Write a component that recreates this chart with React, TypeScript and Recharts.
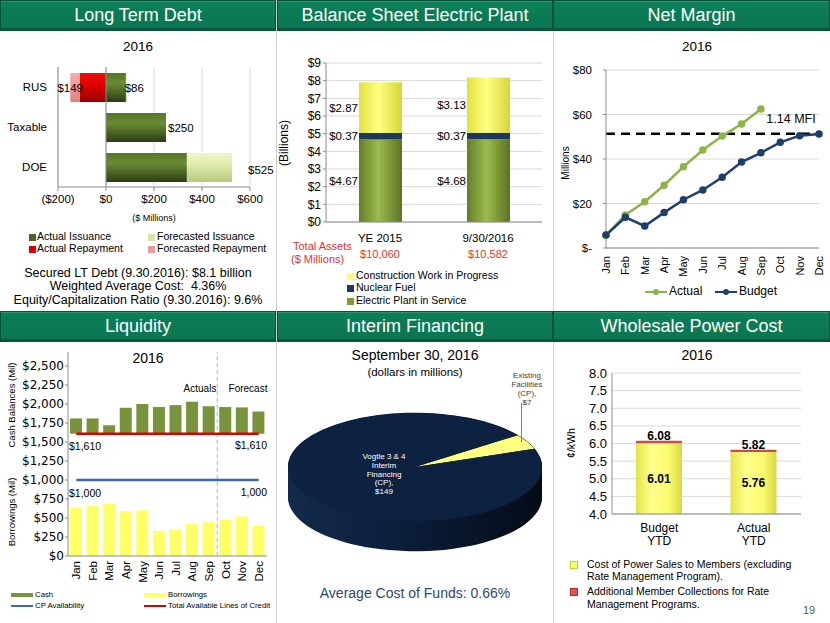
import React from "react";
import {
  BarChart,
  Bar,
  XAxis,
  YAxis,
  CartesianGrid,
  LineChart,
  Line,
  ComposedChart,
  ReferenceLine,
  LabelList,
  PieChart,
  Pie,
  Cell,
} from "recharts";

const SANS = "'Liberation Sans', Arial, sans-serif";
const VERD = "'DejaVu Sans', Verdana, sans-serif";

// ---- Long Term Debt, 2016 ($ millions)
const debtTypes = ["RUS", "Taxable", "DOE"];
const actualIssuance = [83, 250, 337];
const forecastIssuance = [3, 0, 188];
const actualRepayment = [-110, 0, 0];
const forecastRepayment = [-39, 0, 0];
const debtTicks = [-200, 0, 200, 400, 600];
const debtSeries = ["Actual Issuance", "Forecasted Issuance", "Actual Repayment", "Forecasted Repayment"];

// ---- Balance Sheet Electric Plant ($ billions)
const plantDates = ["YE 2015", "9/30/2016"];
const plantInService = [4.67, 4.68];
const nuclearFuel = [0.37, 0.37];
const constructionWip = [2.87, 3.13];
const totalAssets = ["$10,060", "$10,582"];
const plantTicks = [0, 1, 2, 3, 4, 5, 6, 7, 8, 9];
const plantSeries = ["Construction Work in Progress", "Nuclear Fuel", "Electric Plant in Service"];

// ---- Net Margin ($ millions)
const months = ["Jan", "Feb", "Mar", "Apr", "May", "Jun", "Jul", "Aug", "Sep", "Oct", "Nov", "Dec"];
const marginActual = [5.8, 14.8, 20.8, 28.2, 36.5, 44.0, 50.3, 55.7, 62.5, null, null, null];
const marginBudget = [5.8, 13.8, 9.9, 15.9, 21.7, 26.1, 31.8, 38.6, 42.8, 47.5, 50.5, 51.2];
const mfiLevel = 51.4;
const marginTicks = [0, 20, 40, 60, 80];

// ---- Liquidity ($ millions)
const cashBalances = [1810, 1810, 1720, 1950, 2000, 1960, 1985, 2030, 1970, 1960, 1955, 1900];
const borrowings = [640, 660, 690, 590, 600, 330, 345, 420, 445, 475, 520, 400];
const creditLines = 1610;
const cpAvailability = 1000;
const liquidityTicks = [0, 250, 500, 750, 1000, 1250, 1500, 1750, 2000, 2250, 2500];

// ---- Interim Financing, September 30, 2016 ($ millions)
const interimSources = ["Existing Facilities (CP)", "Vogtle 3 & 4 Interim Financing (CP)"];
const interimAmounts = [7, 149];

// ---- Wholesale Power Cost (cents/kWh)
const costCategories = ["Budget YTD", "Actual YTD"];
const powerSalesCost = [6.01, 5.76];
const memberCollections = [0.07, 0.06];
const costAxisMin = 4;
const costTicks = [4.0, 4.5, 5.0, 5.5, 6.0, 6.5, 7.0, 7.5, 8.0];

// label nudges for the debt chart (px)
const debtLabelGap = [-2, 2, 16];
const debtLabelDrop = [0, 0, 2];

const debtData = debtTypes.map((name, i) => ({
  name,
  ai: actualIssuance[i],
  fi: forecastIssuance[i],
  ar: actualRepayment[i],
  fr: forecastRepayment[i],
  issued: actualIssuance[i] + forecastIssuance[i],
  repaid: -(actualRepayment[i] + forecastRepayment[i]),
}));

const plantData = plantDates.map((d, i) => ({
  d,
  eps: plantInService[i],
  nf: nuclearFuel[i],
  cwip: constructionWip[i],
}));

const marginData = months.map((m, i) => ({ m, actual: marginActual[i], budget: marginBudget[i] }));

const liquidityData = months.map((m, i) => ({
  m,
  cash: [creditLines, cashBalances[i]],
  borrow: borrowings[i],
  lines: creditLines,
  cp: cpAvailability,
}));

const interimData = interimSources.map((name, i) => ({ name, value: interimAmounts[i] }));

const costData = costCategories.map((c, i) => ({
  c,
  cost: powerSalesCost[i],
  total: +(powerSalesCost[i] + memberCollections[i]).toFixed(2),
  base: [costAxisMin, powerSalesCost[i]],
  extra: [powerSalesCost[i], powerSalesCost[i] + memberCollections[i]],
}));

type TxtProps = {
  x: number;
  y: number;
  size: number;
  children: React.ReactNode;
  color?: string;
  align?: "start" | "middle" | "end";
  bold?: boolean;
  family?: string;
  rotate?: boolean;
};

function Txt({ x, y, size, children, color = "#000", align = "middle", bold, family = SANS, rotate }: TxtProps) {
  const tx = align === "middle" ? "-50%" : align === "end" ? "-100%" : "0";
  return (
    <div
      style={{
        position: "absolute",
        left: x,
        top: y,
        transform: `translate(${tx}, -50%)${rotate ? " rotate(-90deg)" : ""}`,
        fontFamily: family,
        fontSize: size,
        fontWeight: bold ? 700 : 400,
        color,
        whiteSpace: "pre",
        lineHeight: 1.1,
      }}
    >
      {children}
    </div>
  );
}

function Header({ left, top, width, title }: { left: number; top: number; width: number; title: string }) {
  return (
    <div
      style={{
        position: "absolute",
        left,
        top,
        width,
        height: 31,
        boxSizing: "border-box",
        background: "linear-gradient(#0c8058, #0a7551)",
        border: "1px solid #05513a",
        boxShadow: "inset 0 1px 0 rgba(255,255,255,0.15), inset 0 -2px 0 rgba(0,0,0,0.25)",
        color: "#fff",
        fontFamily: SANS,
        fontSize: 18,
        display: "flex",
        alignItems: "center",
        justifyContent: "center",
      }}
    >
      {title}
    </div>
  );
}

function Swatch({ x, y, w, h, color, border }: { x: number; y: number; w: number; h: number; color: string; border?: string }) {
  return (
    <div
      style={{
        position: "absolute",
        left: x,
        top: y - h / 2,
        width: w,
        height: h,
        background: color,
        boxSizing: "border-box",
        border: border ? `1px solid ${border}` : undefined,
      }}
    />
  );
}

const MonthTick = (size: number, family: string) => (props: any) => {
  const { x, y, payload } = props;
  return (
    <text
      x={x}
      y={y}
      transform={`rotate(-90, ${x}, ${y})`}
      textAnchor="end"
      dominantBaseline="central"
      fontSize={size}
      fontFamily={family}
      fill="#000"
    >
      {payload.value}
    </text>
  );
};

// sits on the actual-issuance segment, stretched by the issued/actual ratio
function issueLabel(props: any) {
  const vb = props.viewBox ?? props;
  const { x, y, width, height } = vb;
  const i = props.index;
  const total = Number(props.value);
  const right = x + width * (total / actualIssuance[i]);
  return (
    <text
      x={right + debtLabelGap[i]}
      y={y + height / 2 + debtLabelDrop[i]}
      dominantBaseline="central"
      fontSize={11.5}
      fontFamily={SANS}
      fill="#000"
    >
      {"$" + total}
    </text>
  );
}

function repayLabel(props: any) {
  const vb = props.viewBox ?? props;
  const { x, y, width, height } = vb;
  const total = Number(props.value);
  if (!total) return null;
  return (
    <text
      x={Math.min(x, x + width)}
      y={y + height / 2}
      textAnchor="middle"
      dominantBaseline="central"
      fontSize={11.5}
      fontFamily={SANS}
      fill="#000"
    >
      {"$" + total}
    </text>
  );
}

const CostTick = (props: any) => {
  const { x, y, payload } = props;
  const words = String(payload.value).split(" ");
  return (
    <text x={x} y={y} textAnchor="middle" fontSize={12} fontFamily={SANS} fill="#000">
      <tspan x={x} dy={18}>{words[0]}</tspan>
      <tspan x={x} dy={13}>{words[1]}</tspan>
    </text>
  );
};

const axisGray = { stroke: "#8c8c8c" };

export default function App() {
  const pieScale = 0.425;
  const pieDepth = 71;
  const depthSteps = Array.from({ length: 25 }, (_, k) => pieDepth - k * 3);

  return (
    <div style={{ position: "relative", width: 830, height: 623, background: "#fff", overflow: "hidden" }}>
      <style>{"body{margin:0}"}</style>

      {/* panel dividers */}
      <div style={{ position: "absolute", left: 276, top: 0, width: 1, height: 623, background: "#cfcfcf" }} />
      <div style={{ position: "absolute", left: 553, top: 0, width: 1, height: 623, background: "#cfcfcf" }} />

      <Header left={0} top={0} width={276} title="Long Term Debt" />
      <Header left={277} top={0} width={276} title="Balance Sheet Electric Plant" />
      <Header left={553} top={0} width={277} title="Net Margin" />
      <Header left={0} top={311} width={276} title="Liquidity" />
      <Header left={277} top={311} width={276} title="Interim Financing" />
      <Header left={553} top={311} width={277} title="Wholesale Power Cost" />

      {/* ---------- Long Term Debt ---------- */}
      <Txt x={138} y={47} size={13.5}>2016</Txt>
      <div style={{ position: "absolute", left: 0, top: 30 }}>
        <BarChart
          width={276}
          height={180}
          data={debtData}
          layout="vertical"
          stackOffset="sign"
          margin={{ top: 37, right: 26, bottom: 0, left: 0 }}
        >
          <defs>
            <linearGradient id="gAI" x1="0" y1="0" x2="0" y2="1">
              <stop offset="0" stopColor="#56742a" />
              <stop offset="0.35" stopColor="#6a8c36" />
              <stop offset="1" stopColor="#2b3c13" />
            </linearGradient>
            <linearGradient id="gFI" x1="0" y1="0" x2="0" y2="1">
              <stop offset="0" stopColor="#f0f6cc" />
              <stop offset="0.4" stopColor="#dfeaad" />
              <stop offset="1" stopColor="#b7ca7c" />
            </linearGradient>
            <linearGradient id="gAR" x1="0" y1="0" x2="0" y2="1">
              <stop offset="0" stopColor="#f01010" />
              <stop offset="0.4" stopColor="#e00000" />
              <stop offset="1" stopColor="#980000" />
            </linearGradient>
            <linearGradient id="gFR" x1="0" y1="0" x2="0" y2="1">
              <stop offset="0" stopColor="#f4b0b0" />
              <stop offset="1" stopColor="#dc8383" />
            </linearGradient>
          </defs>
          <CartesianGrid horizontal={false} stroke="#dadada" />
          <XAxis
            type="number"
            domain={[-200, 600]}
            ticks={debtTicks}
            interval={0}
            tickFormatter={(v: number) => (v < 0 ? `($${-v})` : `$${v}`)}
            height={23}
            axisLine={axisGray}
            tickLine={axisGray}
            tickSize={4}
            tickMargin={4}
            tick={{ fontSize: 11.5, fill: "#000", fontFamily: SANS }}
          />
          <YAxis
            type="category"
            dataKey="name"
            width={58}
            tickLine={false}
            tickSize={0}
            tickMargin={11}
            axisLine={axisGray}
            tick={{ fontSize: 11.5, fill: "#000", fontFamily: SANS }}
          />
          <ReferenceLine x={0} stroke="#8c8c8c" />
          <Bar dataKey="ai" stackId="d" fill="url(#gAI)" barSize={29} isAnimationActive={false}>
            <LabelList dataKey="issued" content={issueLabel} />
          </Bar>
          <Bar dataKey="fi" stackId="d" fill="url(#gFI)" barSize={29} isAnimationActive={false} />
          <Bar dataKey="ar" stackId="d" fill="url(#gAR)" barSize={29} isAnimationActive={false} />
          <Bar dataKey="fr" stackId="d" fill="url(#gFR)" barSize={29} isAnimationActive={false}>
            <LabelList dataKey="repaid" content={repayLabel} />
          </Bar>
        </BarChart>
      </div>
      <Txt x={154} y={219} size={9}>($ Millions)</Txt>
      <Swatch x={29} y={237} w={7} h={7} color="#4a6424" />
      <Txt x={37} y={237} size={10.5} align="start">{debtSeries[0]}</Txt>
      <Swatch x={148} y={237} w={7} h={7} color="#d9e6a6" />
      <Txt x={157} y={237} size={10.5} align="start">{debtSeries[1]}</Txt>
      <Swatch x={29} y={249} w={7} h={7} color="#dc0000" />
      <Txt x={37} y={249} size={10.5} align="start">{debtSeries[2]}</Txt>
      <Swatch x={148} y={249} w={7} h={7} color="#eb9a9a" />
      <Txt x={157} y={249} size={10.5} align="start">{debtSeries[3]}</Txt>
      <Txt x={138} y={274} size={12.5}>Secured LT Debt (9.30.2016): $8.1 billion</Txt>
      <Txt x={138} y={287} size={12.5}>Weighted Average Cost:  4.36%</Txt>
      <Txt x={138} y={301} size={12.5}>Equity/Capitalization Ratio (9.30.2016): 9.6%</Txt>

      {/* ---------- Balance Sheet Electric Plant ---------- */}
      <div style={{ position: "absolute", left: 276, top: 30 }}>
        <BarChart width={277} height={217} data={plantData} margin={{ top: 33, right: 11, bottom: 0, left: 0 }}>
          <defs>
            <linearGradient id="gEps" x1="0" y1="0" x2="1" y2="0">
              <stop offset="0" stopColor="#647d26" />
              <stop offset="0.45" stopColor="#9dbb4e" />
              <stop offset="1" stopColor="#5b7323" />
            </linearGradient>
            <linearGradient id="gCwip" x1="0" y1="0" x2="1" y2="0">
              <stop offset="0" stopColor="#e2e23c" />
              <stop offset="0.45" stopColor="#ffff82" />
              <stop offset="1" stopColor="#d6d63a" />
            </linearGradient>
          </defs>
          <CartesianGrid vertical={false} stroke="#d9d9d9" />
          <XAxis
            dataKey="d"
            height={25}
            axisLine={axisGray}
            tickLine={false}
            tickMargin={6}
            tick={{ fontSize: 11.5, fill: "#000", fontFamily: SANS }}
          />
          <YAxis
            domain={[0, 9]}
            ticks={plantTicks}
            interval={0}
            width={50}
            tickFormatter={(v: number) => `$${v}`}
            axisLine={axisGray}
            tickLine={axisGray}
            tickSize={3}
            tickMargin={2}
            tick={{ fontSize: 12, fill: "#000", fontFamily: SANS }}
          />
          <Bar dataKey="eps" stackId="p" fill="url(#gEps)" barSize={43} isAnimationActive={false}>
            <LabelList dataKey="eps" position="left" offset={1} formatter={(v: any) => `$${Number(v).toFixed(2)}`} style={{ fontSize: 11.5, fontFamily: SANS, fill: "#000" }} />
          </Bar>
          <Bar dataKey="nf" stackId="p" fill="#1d375f" barSize={43} isAnimationActive={false}>
            <LabelList dataKey="nf" position="left" offset={1} formatter={(v: any) => `$${Number(v).toFixed(2)}`} style={{ fontSize: 11.5, fontFamily: SANS, fill: "#000" }} />
          </Bar>
          <Bar dataKey="cwip" stackId="p" fill="url(#gCwip)" barSize={43} isAnimationActive={false}>
            <LabelList dataKey="cwip" position="left" offset={1} formatter={(v: any) => `$${Number(v).toFixed(2)}`} style={{ fontSize: 11.5, fontFamily: SANS, fill: "#000" }} />
          </Bar>
        </BarChart>
      </div>
      <Txt x={285} y={143} size={12} rotate>(Billions)</Txt>
      <Txt x={293} y={246} size={11} color="#e3312f" align="start">Total Assets</Txt>
      <Txt x={291} y={259} size={11} color="#e3312f" align="start">($ Millions)</Txt>
      {totalAssets.map((t, i) => (
        <Txt key={t} x={326 + (i + 0.5) * 108} y={254} size={11} color="#e3312f">
          {t}
        </Txt>
      ))}
      <Swatch x={347} y={276} w={7} h={7} color="#ffff66" />
      <Txt x={356} y={276} size={10.5} align="start">{plantSeries[0]}</Txt>
      <Swatch x={347} y={288} w={7} h={7} color="#1d375f" />
      <Txt x={356} y={288} size={10.5} align="start">{plantSeries[1]}</Txt>
      <Swatch x={347} y={301} w={7} h={7} color="#7f9a36" />
      <Txt x={356} y={301} size={10.5} align="start">{plantSeries[2]}</Txt>

      {/* ---------- Net Margin ---------- */}
      <Txt x={697} y={47} size={13.5}>2016</Txt>
      <div style={{ position: "absolute", left: 553, top: 30 }}>
        <LineChart width={277} height={252} data={marginData} margin={{ top: 40, right: 11, bottom: 0, left: 0 }}>
          <CartesianGrid vertical={false} stroke="#d9d9d9" />
          <XAxis
            dataKey="m"
            height={34}
            interval={0}
            axisLine={axisGray}
            tickLine={false}
            tickSize={0}
            tickMargin={8}
            tick={MonthTick(11, SANS)}
          />
          <YAxis
            domain={[0, 80]}
            ticks={marginTicks}
            interval={0}
            width={53}
            tickFormatter={(v: number) => (v === 0 ? "$-" : `$${v}`)}
            axisLine={axisGray}
            tickLine={axisGray}
            tickSize={3}
            tickMargin={11}
            tick={{ fontSize: 11.5, fill: "#000", fontFamily: SANS }}
          />
          <ReferenceLine
            segment={[
              { x: "Jan", y: mfiLevel },
              { x: "Dec", y: mfiLevel },
            ]}
            stroke="#000"
            strokeWidth={2.5}
            strokeDasharray="9 6"
          />
          <Line
            dataKey="actual"
            stroke="#8db448"
            strokeWidth={2.5}
            dot={{ r: 2.5, fill: "#8db448", stroke: "#8db448" }}
            isAnimationActive={false}
          />
          <Line
            dataKey="budget"
            stroke="#1f3f6b"
            strokeWidth={2.5}
            dot={{ r: 2.5, fill: "#1f3f6b", stroke: "#1f3f6b" }}
            isAnimationActive={false}
          />
        </LineChart>
      </div>
      <Txt x={791} y={120} size={12.5}>1.14 MFI</Txt>
      <Txt x={565} y={163} size={10} rotate>Millions</Txt>
      <Swatch x={645} y={292} w={22} h={2.5} color="#8db448" />
      <div style={{ position: "absolute", left: 653, top: 289, width: 6, height: 6, borderRadius: 3, background: "#8db448" }} />
      <Txt x={669} y={292} size={12} align="start">Actual</Txt>
      <Swatch x={715} y={292} w={22} h={2.5} color="#1f3f6b" />
      <div style={{ position: "absolute", left: 723, top: 289, width: 6, height: 6, borderRadius: 3, background: "#1f3f6b" }} />
      <Txt x={739} y={292} size={12} align="start">Budget</Txt>

      {/* ---------- Liquidity ---------- */}
      <div style={{ position: "absolute", left: 0, top: 343 }}>
        <ComposedChart width={276} height={250} data={liquidityData} margin={{ top: 9, right: 9, bottom: 0, left: 0 }}>
          <XAxis
            xAxisId="a"
            dataKey="m"
            height={37}
            interval={0}
            axisLine={axisGray}
            tickLine={false}
            tickSize={0}
            tickMargin={5}
            tick={MonthTick(11.5, SANS)}
          />
          <XAxis xAxisId="b" dataKey="m" hide />
          <YAxis
            domain={[0, 2684]}
            ticks={liquidityTicks}
            interval={0}
            width={68}
            tickFormatter={(v: number) => "$" + v.toLocaleString("en-US")}
            axisLine={axisGray}
            tickLine={axisGray}
            tickSize={3}
            tickMargin={1}
            tick={{ fontSize: 12, fill: "#000", fontFamily: VERD }}
          />
          <ReferenceLine xAxisId="a" x="Oct" position="start" stroke="#9ab8dc" strokeDasharray="4 3" />
          <Bar xAxisId="b" dataKey="cash" fill="#77933c" barSize={12} isAnimationActive={false} />
          <Bar xAxisId="a" dataKey="borrow" fill="#ffff66" barSize={12} isAnimationActive={false} />
          <Line xAxisId="a" dataKey="lines" stroke="#dc0000" strokeWidth={2.5} dot={false} isAnimationActive={false} />
          <Line xAxisId="a" dataKey="cp" stroke="#3a69ad" strokeWidth={2.5} dot={false} isAnimationActive={false} />
        </ComposedChart>
      </div>
      <Txt x={148} y={359} size={14}>2016</Txt>
      <Txt x={200} y={388} size={10}>Actuals</Txt>
      <Txt x={248} y={388} size={10}>Forecast</Txt>
      <Txt x={69} y={447} size={10.5} align="start">{"$" + creditLines.toLocaleString("en-US")}</Txt>
      <Txt x={267} y={446} size={10.5} align="end">{"$" + creditLines.toLocaleString("en-US")}</Txt>
      <Txt x={69} y={494} size={10.5} align="start">{"$" + cpAvailability.toLocaleString("en-US")}</Txt>
      <Txt x={267} y={493} size={10.5} align="end">{cpAvailability.toLocaleString("en-US")}</Txt>
      <Txt x={12} y={405} size={9.5} rotate>Cash Balances (Mil)</Txt>
      <Txt x={12} y={512} size={9.5} rotate>Borrowings (Mil)</Txt>
      <Swatch x={11} y={595} w={22} h={4} color="#77933c" />
      <Txt x={35} y={595} size={7.8} align="start">Cash</Txt>
      <Swatch x={144} y={595} w={22} h={4} color="#ffff66" />
      <Txt x={168} y={595} size={7.8} align="start">Borrowings</Txt>
      <Swatch x={11} y={606} w={22} h={2} color="#3a69ad" />
      <Txt x={35} y={606} size={7.8} align="start">CP Availability</Txt>
      <Swatch x={144} y={606} w={22} h={2.5} color="#dc0000" />
      <Txt x={168} y={606} size={7.8} align="start">Total Available Lines of Credit</Txt>

      {/* ---------- Interim Financing ---------- */}
      <Txt x={415} y={356} size={14}>September 30, 2016</Txt>
      <Txt x={415} y={372} size={11.5}>(dollars in millions)</Txt>
      <div
        style={{
          position: "absolute",
          left: 280,
          top: 411,
          width: 270,
          height: 340,
          transform: `scaleY(${pieScale})`,
          transformOrigin: "top left",
        }}
      >
        <PieChart width={270} height={340} margin={{ top: 0, right: 0, bottom: 0, left: 0 }}>
          <defs>
            <linearGradient id="gSide" x1="0" y1="0" x2="1" y2="0">
              <stop offset="0" stopColor="#142a4c" />
              <stop offset="0.5" stopColor="#0b1c37" />
              <stop offset="1" stopColor="#040b18" />
            </linearGradient>
          </defs>
          {depthSteps.map((off) => (
            <Pie
              key={off}
              data={interimData}
              dataKey="value"
              cx={135}
              cy={132 + off}
              outerRadius={127}
              startAngle={20}
              endAngle={380}
              stroke="none"
              isAnimationActive={false}
            >
              <Cell fill="url(#gSide)" />
              <Cell fill="url(#gSide)" />
            </Pie>
          ))}
          <Pie
            data={interimData}
            dataKey="value"
            cx={135}
            cy={132}
            outerRadius={127}
            startAngle={20}
            endAngle={380}
            stroke="none"
            isAnimationActive={false}
          >
            <Cell fill="#ffff80" />
            <Cell fill="#0d2241" />
          </Pie>
        </PieChart>
      </div>
      <div style={{ position: "absolute", left: 521, top: 403, width: 1, height: 39, background: "#7f7f7f" }} />
      <div
        style={{
          position: "absolute",
          left: 527,
          top: 371,
          transform: "translateX(-50%)",
          fontFamily: SANS,
          fontSize: 8,
          lineHeight: "9px",
          color: "#404040",
          textAlign: "center",
          whiteSpace: "pre",
        }}
      >
        {"Existing\nFacilities\n(CP),\n$" + interimAmounts[0]}
      </div>
      <div
        style={{
          position: "absolute",
          left: 384,
          top: 453,
          transform: "translateX(-50%)",
          fontFamily: SANS,
          fontSize: 8,
          lineHeight: "8.8px",
          color: "#fff",
          textAlign: "center",
          whiteSpace: "pre",
        }}
      >
        {"Vogtle 3 & 4\nInterim\nFinancing\n(CP),\n$" + interimAmounts[1]}
      </div>
      <Txt x={415} y={594} size={14} color="#2a4777">Average Cost of Funds: 0.66%</Txt>

      {/* ---------- Wholesale Power Cost ---------- */}
      <Txt x={697} y={356} size={14}>2016</Txt>
      <div style={{ position: "absolute", left: 553, top: 343 }}>
        <BarChart width={277} height={205} data={costData} margin={{ top: 30, right: 29, bottom: 0, left: 0 }}>
          <defs>
            <linearGradient id="gCost" x1="0" y1="0" x2="1" y2="0">
              <stop offset="0" stopColor="#e4e44e" />
              <stop offset="0.35" stopColor="#ffff8c" />
              <stop offset="0.7" stopColor="#fbfb70" />
              <stop offset="1" stopColor="#d8d844" />
            </linearGradient>
          </defs>
          <CartesianGrid xAxisId="a" vertical={false} stroke="#d9d9d9" />
          <XAxis
            xAxisId="a"
            dataKey="c"
            height={34}
            axisLine={axisGray}
            tickLine={false}
            tickSize={0}
            tickMargin={0}
            tick={CostTick}
          />
          <XAxis xAxisId="b" dataKey="c" hide />
          <YAxis
            domain={[4, 8]}
            ticks={costTicks}
            interval={0}
            width={59}
            tickFormatter={(v: number) => v.toFixed(1)}
            axisLine={axisGray}
            tickLine={false}
            tickSize={0}
            tickMargin={5}
            tick={{ fontSize: 13, fill: "#000", fontFamily: SANS }}
          />
          <Bar xAxisId="a" dataKey="base" fill="url(#gCost)" barSize={46} isAnimationActive={false}>
            <LabelList
              dataKey="cost"
              position="center"
              formatter={(v: any) => Number(v).toFixed(2)}
              style={{ fontSize: 12, fontWeight: 700, fontFamily: SANS, fill: "#000" }}
            />
          </Bar>
          <Bar xAxisId="b" dataKey="extra" fill="#c0504d" barSize={46} isAnimationActive={false}>
            <LabelList
              dataKey="total"
              position="top"
              offset={1}
              formatter={(v: any) => Number(v).toFixed(2)}
              style={{ fontSize: 12, fontWeight: 700, fontFamily: SANS, fill: "#000" }}
            />
          </Bar>
        </BarChart>
      </div>
      <Txt x={572} y={443} size={10.5} rotate>¢/kWh</Txt>
      <Swatch x={570} y={565} w={8} h={8} color="#ffff66" border="#c8c840" />
      <Txt x={587} y={565} size={10.5} align="start">Cost of Power Sales to Members (excluding</Txt>
      <Txt x={587} y={577} size={10.5} align="start">Rate Management Program).</Txt>
      <Swatch x={570} y={592} w={8} h={8} color="#d9534f" border="#b03030" />
      <Txt x={587} y={592} size={10.5} align="start">Additional Member Collections for Rate</Txt>
      <Txt x={587} y={605} size={10.5} align="start">Management Programs.</Txt>
      <Txt x={809} y={610} size={11} color="#595959">19</Txt>
    </div>
  );
}
